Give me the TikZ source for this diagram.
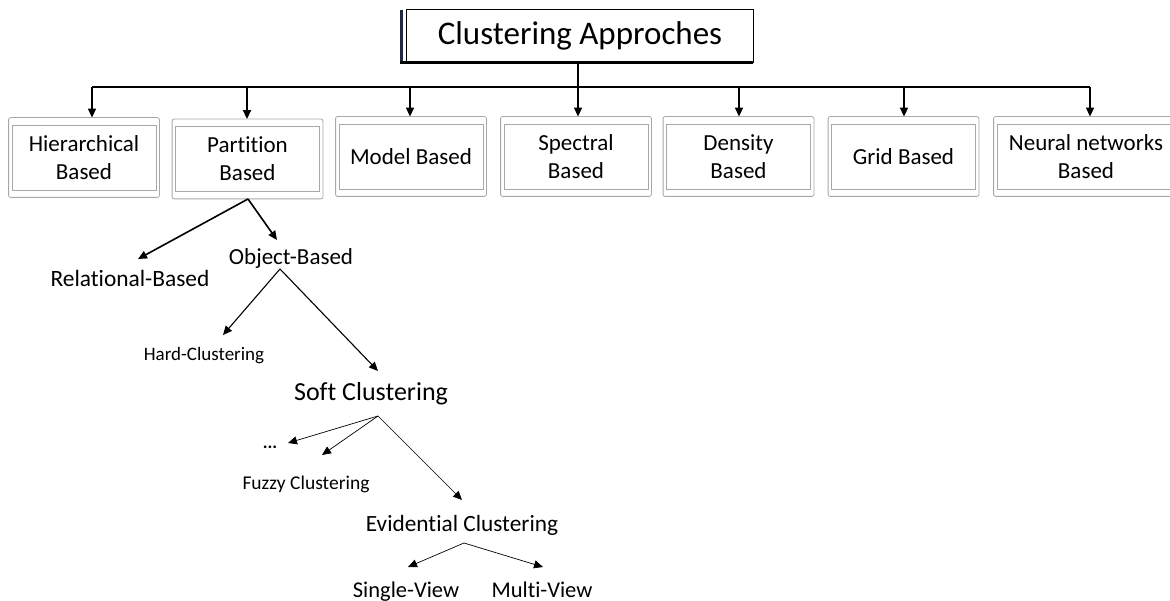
\documentclass[tikz,border=0pt]{standalone}
\usepackage{fontspec}
\setmainfont{Carlito}[Ligatures={NoCommon,NoDiscretionary,NoRare,NoContextual}]
\usetikzlibrary{arrows.meta}
\definecolor{framegray}{HTML}{A8A8A8}
\definecolor{navy}{HTML}{1F2A44}
\tikzset{
  catbox/.style={draw=framegray, line width=0.8pt, minimum width=144pt, minimum height=65pt,
    align=center, font=\fontsize{23}{28}\selectfont, inner sep=0pt},
  leaf/.style={inner sep=0pt, align=center, text height=0.72em, text depth=0.22em},
  bigarrow/.style={line width=1.6pt, -{Triangle[length=9pt,width=8pt]}},
  midarrow/.style={line width=1.1pt, -{Triangle[length=9pt,width=8pt]}},
  thinarrow/.style={line width=0.7pt, -{Triangle[length=9pt,width=8pt]}},
}
\newcommand{\outerframe}[1]{%
  \draw[framegray, line width=0.8pt, rounded corners=2pt]
    ([xshift=-3pt,yshift=7pt]#1.north west) rectangle ([xshift=3pt,yshift=-7pt]#1.south east);}
\begin{document}
\begin{tikzpicture}[x=1pt,y=-1pt]
\useasboundingbox (0,0) rectangle (1170,601);
% title box with shaded left and bottom edges
\node[inner sep=0pt, minimum width=346pt, minimum height=52pt,
      font=\fontsize{33}{38}\selectfont] (top) at (580,36) {Clustering Approches};
\draw[line width=1.2pt] (top.south west) rectangle (top.north east);
\draw[navy, line width=2.6pt] ([xshift=-5.5pt]top.north west) -- ([xshift=-5.5pt]top.south west);
\draw[line width=2.8pt] ([xshift=-6.5pt]top.south west) -- (top.south east);

% category boxes
\node[catbox] (hier) at (84,157.5) {Hierarchical\\Based};
\node[catbox] (part) at (247.5,159) {Partition\\Based};
\node[catbox] (model) at (411,156.5) {Model Based};
\node[catbox] (spec) at (576,156.5) {Spectral\\Based};
\node[catbox] (dens) at (738.5,156.5) {Density\\Based};
\node[catbox] (grid) at (903.5,156.5) {Grid Based};
\node[catbox, minimum width=178pt] (neur) at (1086,156.5) {Neural networks\\Based};
\foreach \b in {hier,part,model,spec,dens,grid,neur} {\outerframe{\b}}

% bus from the title to the categories
\coordinate (bus) at (578,87);
\coordinate (busL) at (92,87);
\coordinate (busR) at (1090,87);
\draw[line width=1.6pt] (top.south -| bus) -- (bus);
\draw[line width=1.6pt] (busL) -- (busR);
\foreach \b/\x in {hier/92,part/247,model/410,spec/578,dens/739,grid/904,neur/1090}
  \draw[bigarrow] (\x,87) -- ([yshift=7pt]\b.north -| \x,0);

% partition-based subtree
\node[leaf, font=\fontsize{23.4}{26}\selectfont] (rel) at (130,284) {Relational-Based};
\node[leaf, font=\fontsize{23}{26}\selectfont] (obj) at (291,262) {Object-Based};
\coordinate (pfoot) at (248,199);
\draw[bigarrow] (pfoot) -- (138,259);
\draw[bigarrow] (pfoot) -- (277,240);

\node[leaf, font=\fontsize{19}{22}\selectfont] (hard) at (204,358) {Hard-Clustering};
\node[leaf, font=\fontsize{26}{30}\selectfont] (soft) at (371,398) {Soft Clustering};
\coordinate (ofoot) at (280,269);
\draw[midarrow] (ofoot) -- (223,335);
\draw[midarrow] (ofoot) -- (378,371);

\node[leaf, font=\bfseries\fontsize{18}{20}\selectfont] (dots) at (270,446) {...};
\node[leaf, font=\fontsize{19.5}{22}\selectfont] (fuzzy) at (306,487) {Fuzzy Clustering};
\node[leaf, font=\fontsize{23.3}{26}\selectfont] (evid) at (462,529) {Evidential Clustering};
\coordinate (sfoot) at (378,416);
\draw[thinarrow] (sfoot) -- (288,443);
\draw[thinarrow] (sfoot) -- (322,455);
\draw[thinarrow] (sfoot) -- (462,500);

\node[leaf, font=\fontsize{22.5}{26}\selectfont] (single) at (406,595) {Single-View};
\node[leaf, font=\fontsize{22.5}{26}\selectfont] (multi) at (542,595) {Multi-View};
\coordinate (efoot) at (464,543);
\draw[thinarrow] (efoot) -- (408,567);
\draw[thinarrow] (efoot) -- (543,567);
\end{tikzpicture}
\end{document}
